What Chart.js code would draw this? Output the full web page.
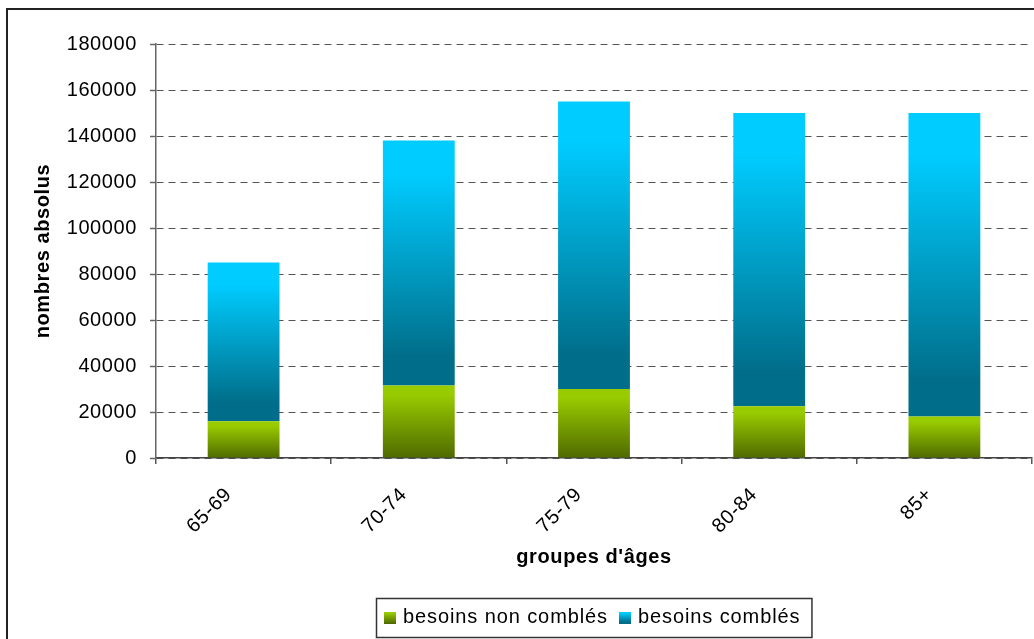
<!DOCTYPE html>
<html>
<head>
<meta charset="utf-8">
<script src="https://cdn.jsdelivr.net/npm/chart.js@4"></script>
<style>
  html, body { margin: 0; padding: 0; background: #fff; }
  canvas { display: block; }
</style>
</head>
<body>
<canvas id="c" width="1034" height="639"></canvas>
<script>
// ---- data ----
const ageGroups = ['65-69', '70-74', '75-79', '80-84', '85+'];
const besoinsNonCombles = [16000, 31500, 30000, 22500, 18000];
const besoinsCombles = [69000, 106500, 125000, 127500, 132000];
const seriesNames = ['besoins non comblés', 'besoins comblés'];
const yTickValues = [0, 20000, 40000, 60000, 80000, 100000, 120000, 140000, 160000, 180000];
const xAxisTitle = "groupes d'âges";
const yAxisTitle = 'nombres absolus';

// ---- styles ----
const FONT = 'Arial, "Liberation Sans", Helvetica, sans-serif';
const SPACING = '0.6px';
const LEGEND_SPACING = '0.9px';
const greenStops = [[0, '#99CC00'], [0.12, '#99CC00'], [1, '#4F6A00']];
const blueStops = [[0, '#00CCFF'], [0.14, '#00CCFF'], [0.88, '#006E8A'], [1, '#006E8A']];
const datasetStops = [greenStops, blueStops];

function barGradient(context) {
  const chart = context.chart;
  const stops = datasetStops[context.datasetIndex];
  const yScale = chart.scales && chart.scales.y;
  if (!chart.chartArea || !yScale || context.dataIndex === undefined) return stops[0][1];
  let base = 0;
  for (let d = 0; d < context.datasetIndex; d++) base += chart.data.datasets[d].data[context.dataIndex];
  const top = base + chart.data.datasets[context.datasetIndex].data[context.dataIndex];
  const yTop = yScale.getPixelForValue(top);
  const yBot = yScale.getPixelForValue(base);
  if (!isFinite(yTop) || !isFinite(yBot) || yTop === yBot) return stops[0][1];
  const g = chart.ctx.createLinearGradient(0, yTop, 0, yBot);
  stops.forEach(s => g.addColorStop(s[0], s[1]));
  return g;
}

const spacingPlugin = {
  id: 'spacing',
  beforeInit(chart) { chart.ctx.letterSpacing = SPACING; },
  beforeUpdate(chart) { chart.ctx.letterSpacing = SPACING; },
  beforeDraw(chart) {
    const ctx = chart.ctx;
    ctx.letterSpacing = SPACING;
    ctx.save();
    ctx.fillStyle = '#fff';
    ctx.fillRect(0, 0, chart.width, chart.height);
    ctx.restore();
  },
  afterDraw(chart) {
    const ctx = chart.ctx;
    const ca = chart.chartArea;
    ctx.save();
    // outer frame
    ctx.strokeStyle = '#222';
    ctx.lineWidth = 2;
    ctx.strokeRect(7, 9, chart.width + 20, chart.height + 20);
    // legend
    ctx.letterSpacing = LEGEND_SPACING;
    ctx.font = '20px ' + FONT;
    const sq = 12, gapSqText = 7, gapItems = 11, padL = 8, padR = 11;
    const widths = seriesNames.map(t => ctx.measureText(t).width);
    let total = padL + padR + gapItems * (seriesNames.length - 1);
    widths.forEach(w => total += sq + gapSqText + w);
    const x0 = Math.round((ca.left + ca.right) / 2 - total / 2);
    const y0 = chart.height - 41, h = 39;
    ctx.strokeStyle = '#333';
    ctx.lineWidth = 1.5;
    ctx.strokeRect(x0 + 0.5, y0 + 0.5, total, h);
    let x = x0 + padL;
    const cy = y0 + h / 2;
    seriesNames.forEach((t, i) => {
      const g = ctx.createLinearGradient(0, cy - sq / 2, 0, cy + sq / 2);
      datasetStops[i].forEach(s => g.addColorStop(s[0], s[1]));
      ctx.fillStyle = g;
      ctx.fillRect(x, Math.round(cy - sq / 2), sq, sq);
      x += sq + gapSqText;
      ctx.fillStyle = '#000';
      ctx.textBaseline = 'middle';
      ctx.textAlign = 'left';
      ctx.fillText(t, x, cy);
      x += widths[i] + gapItems;
    });
    ctx.restore();
  }
};

new Chart(document.getElementById('c'), {
  type: 'bar',
  data: {
    labels: ageGroups,
    datasets: [
      { label: seriesNames[0], data: besoinsNonCombles, backgroundColor: barGradient, borderWidth: 0 },
      { label: seriesNames[1], data: besoinsCombles, backgroundColor: barGradient, borderWidth: 0 }
    ]
  },
  options: {
    responsive: false,
    animation: false,
    devicePixelRatio: 1,
    layout: { padding: { top: 44, left: 0, right: 2, bottom: 49 } },
    barPercentage: 0.41,
    categoryPercentage: 1,
    plugins: {
      legend: { display: false },
      tooltip: { enabled: false }
    },
    scales: {
      x: {
        stacked: true,
        offset: true,
        grid: { display: true, drawOnChartArea: false, drawTicks: true, tickLength: 6, color: '#555', lineWidth: 1.5, offset: true },
        border: { display: true, color: '#444', width: 1.5 },
        ticks: {
          autoSkip: false, minRotation: 45, maxRotation: 45,
          padding: 19, labelOffset: -15,
          color: '#000', font: { size: 20, family: FONT }
        },
        title: {
          display: true, text: xAxisTitle, color: '#000',
          font: { size: 20, weight: 'bold', family: FONT },
          padding: { top: 0, bottom: 21 }
        },
        afterFit(scale) { scale.height = 132; }
      },
      y: {
        stacked: true,
        min: 0, max: 180000,
        afterBuildTicks(scale) { scale.ticks = yTickValues.map(v => ({ value: v })); },
        grid: { color: '#555', lineWidth: 1, drawTicks: true, tickLength: 6, tickColor: '#666', tickWidth: 1.5, tickBorderDash: [] },
        border: { display: true, color: '#666', width: 1.5, dash: [7, 5] },
        ticks: {
          padding: 13, color: '#000', font: { size: 20, family: FONT },
          callback: v => String(v)
        },
        title: {
          display: true, text: yAxisTitle, color: '#000',
          font: { size: 20, weight: 'bold', family: FONT },
          padding: { top: 31, bottom: 0 }
        },
        afterFit(scale) { scale.width = 156; }
      }
    }
  },
  plugins: [spacingPlugin]
});
</script>
</body>
</html>
